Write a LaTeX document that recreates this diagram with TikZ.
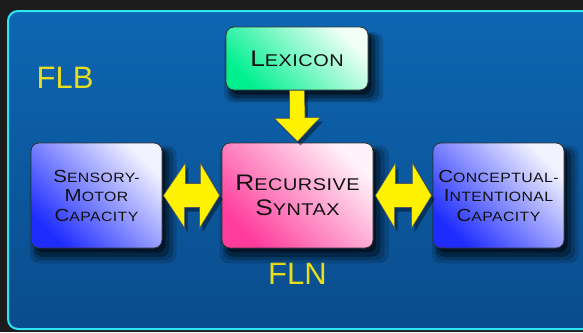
\documentclass[tikz,border=0pt]{standalone}
\usepackage{fontspec}
\setmainfont{Liberation Sans}
\newfontfamily\cpfont[FakeStretch=1.17,LetterSpace=3]{Liberation Sans}
\usetikzlibrary{calc,shadows}
\definecolor{bgdark}{HTML}{1C1C1C}
\definecolor{panelT}{HTML}{0D66B2}
\definecolor{panelB}{HTML}{0A4C8C}
\definecolor{cyanedge}{HTML}{30E4F6}
\definecolor{lexA}{HTML}{00F090}
\definecolor{lexB}{HTML}{F2FFF8}
\definecolor{capA}{HTML}{1E2CFF}
\definecolor{capB}{HTML}{F2F2FF}
\definecolor{recA}{HTML}{FF3C9C}
\definecolor{recB}{HTML}{FFF2F8}
\definecolor{flyellow}{HTML}{E8DE1E}
\definecolor{txt}{HTML}{111111}
\newcommand\SCbig[2]{{\fontsize{22.5}{25}\selectfont #1}{\fontsize{17}{25}\selectfont #2}}
\newcommand\SCsm[2]{{\fontsize{17.5}{19.5}\selectfont #1}{\fontsize{13.5}{19.5}\selectfont #2}}
\tikzset{
  softshadow/.style={
    drop shadow={shadow xshift=6pt,shadow yshift=-8pt,opacity=0.15,fill=black,shadow scale=1.12},
    drop shadow={shadow xshift=6pt,shadow yshift=-8pt,opacity=0.20,fill=black,shadow scale=1.07},
    drop shadow={shadow xshift=5pt,shadow yshift=-7pt,opacity=0.30,fill=black,shadow scale=1.03},
    drop shadow={shadow xshift=4pt,shadow yshift=-5pt,opacity=0.45,fill=black,shadow scale=0.99}},
  box/.style={draw=black!80,line width=0.8pt,rounded corners=8pt,align=center,
    text=txt,inner sep=2pt,softshadow},
  lexbox/.style={box,top color=lexB,bottom color=lexA,shading angle=-45,
    font=\cpfont\fontsize{16.5}{25}\selectfont,minimum width=142pt,minimum height=63pt},
  capbox/.style={box,top color=capB,bottom color=capA,shading angle=-45,
    font=\cpfont\fontsize{13.5}{19.5}\selectfont,minimum width=131pt,minimum height=105pt},
  recbox/.style={box,top color=recB,bottom color=recA,shading angle=-45,
    font=\cpfont\fontsize{16.5}{25}\selectfont,minimum width=151pt,minimum height=105pt},
  yarrow/.style={fill=yellow,draw=black!65,line width=0.6pt,line join=miter,
    drop shadow={shadow xshift=3pt,shadow yshift=-4pt,opacity=0.4,fill=black}},
  fltext/.style={text=flyellow,font=\fontsize{31}{31}\selectfont,inner sep=0pt}
}
\begin{document}
\begin{tikzpicture}[x=1pt,y=-1pt]
\useasboundingbox (0,0) rectangle (583,332);
\clip (0,0) rectangle (583,332);
\fill[bgdark] (0,0) rectangle (583,332);
% panel
\shade[top color=panelT,bottom color=panelB,draw=cyanedge,line width=2pt,rounded corners=10pt]
  (8,11) rectangle (620,329);
% labels
\node[fltext] (flb) at (65,78) {FLB};
\node[fltext] (fln) at (297.5,274) {FLN};
% boxes
\node[lexbox] (lex) at (297,58.5) {\SCbig{L}{EXICON}};
\node[capbox] (sm) at (96.5,195.5) {\SCsm{S}{ENSORY-}\\\SCsm{M}{OTOR}\\\SCsm{C}{APACITY}};
\node[recbox] (rs) at (297.5,195.5) {\SCbig{R}{ECURSIVE}\\\SCbig{S}{YNTAX}};
\node[capbox] (ci) at (498.5,195.5) {\SCsm{C}{ONCEPTUAL-}\\\SCsm{I}{NTENTIONAL}\\\SCsm{C}{APACITY}};
% arrows
\draw[yarrow] ($(lex.south)+(-7.5,0)$) -- ++(0,28) -- ++(-15,0) -- ($(rs.north)+(0,-1)$)
  -- ++(22.5,-24) -- ++(-15,0) -- ($(lex.south)+(7.5,0)$) -- cycle;
\draw[yarrow] ($(sm.east)+(1,0)$) -- ++(22,-32.5) -- ++(0,20.5) -- ++(15,0) -- ++(0,-20.5)
  -- ($(rs.west)+(-2,0)$) -- ++(-20,32.5) -- ++(0,-20.5) -- ++(-15,0) -- ++(0,20.5) -- cycle;
\draw[yarrow] ($(rs.east)+(2,0)$) -- ++(20,-32.5) -- ++(0,20.5) -- ++(17,0) -- ++(0,-20.5)
  -- ($(ci.west)+(-1,0)$) -- ++(-20,32.5) -- ++(0,-20.5) -- ++(-17,0) -- ++(0,20.5) -- cycle;
\end{tikzpicture}
\end{document}
